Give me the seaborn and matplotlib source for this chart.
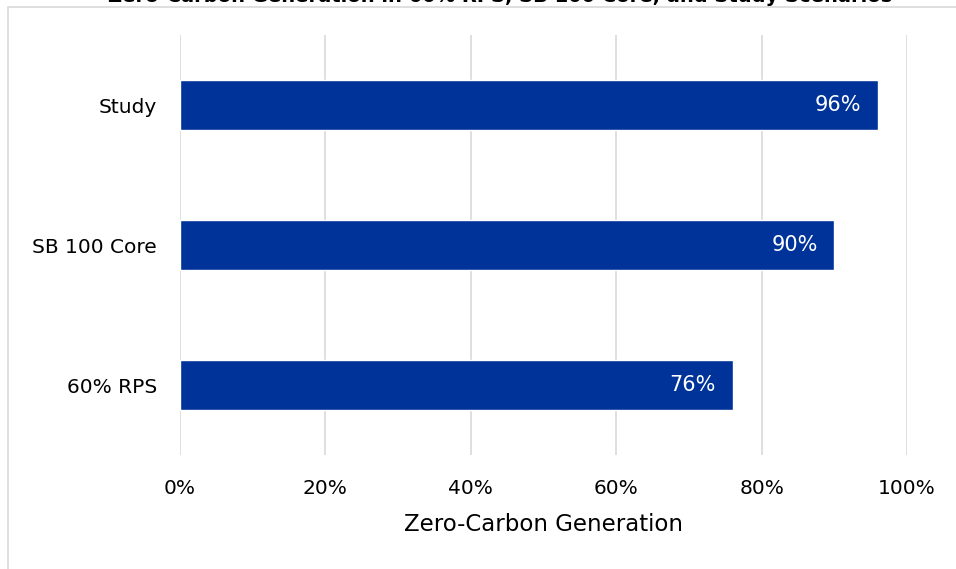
import matplotlib
matplotlib.use("Agg")
import matplotlib.pyplot as plt
import matplotlib.patches as mpatches
import seaborn as sns
import pandas as pd

scenarios = ["Study", "SB 100 Core", "60% RPS"]
zero_carbon = [0.96, 0.90, 0.76]
x_ticks = [0.0, 0.2, 0.4, 0.6, 0.8, 1.0]
x_tick_labels = ["0%", "20%", "40%", "60%", "80%", "100%"]
title = "Zero-Carbon Generation in 60% RPS, SB 100 Core, and Study Scenarios"

sns.set_theme(style="white")
plt.rcParams['font.family'] = ['DejaVu Sans']
plt.rcParams['text.color'] = 'black'
plt.rcParams['axes.labelcolor'] = 'black'
plt.rcParams['xtick.color'] = 'black'
plt.rcParams['ytick.color'] = 'black'

df = pd.DataFrame({"scenario": scenarios, "share": zero_carbon})

fig = plt.figure(figsize=(9.56, 5.69), dpi=100)
W, H = 956, 569
ax = fig.add_axes([180 / W, 1 - 455 / H, (907 - 180) / W, (455 - 35) / H])

# chart border like an Excel chart area
fig.patches.append(mpatches.Rectangle((8 / W, -0.01), 1.0, 1 - 7 / H + 0.01,
                                      transform=fig.transFigure, fill=False,
                                      edgecolor="#d9d9d9", linewidth=1.2))

sns.barplot(data=df, x="share", y="scenario", color="#003399", saturation=1,
            width=0.36, ax=ax, zorder=3)

for i, v in enumerate(zero_carbon):
    ax.text(v - 0.023, i, f"{v:.0%}", color="white", ha="right", va="center",
            fontsize=15, zorder=4)

ax.set_xlim(0, 1.0)
ax.set_ylim(2.5, -0.5)
ax.set_xticks(x_ticks)
ax.set_xticklabels(x_tick_labels, fontsize=14.5)
ax.tick_params(axis="x", length=0, pad=17)
ax.tick_params(axis="y", length=0, pad=16.5, labelsize=14.5)
ax.xaxis.grid(True, color="#d9d9d9", linewidth=1.2, zorder=0)
ax.yaxis.grid(False)
for s in ax.spines.values():
    s.set_visible(False)
ax.set_ylabel("")
ax.set_xlabel("Zero-Carbon Generation", fontsize=16.5, labelpad=11)

# title sits mostly above the top edge, as in the source image
fig.text(500 / W, 1 - 2 / H, title, ha="center", va="baseline",
         fontsize=14, fontweight="bold")

fig.savefig("out.png", dpi=100)
